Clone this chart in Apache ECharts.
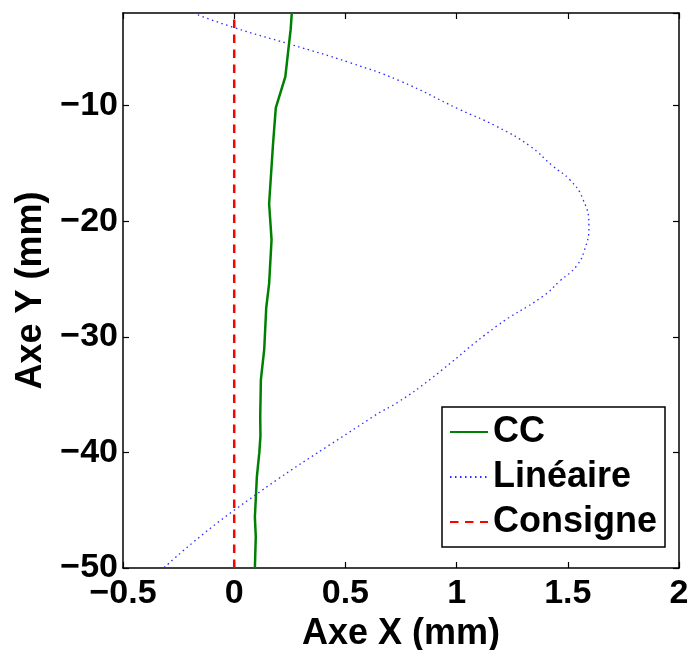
<!DOCTYPE html>
<html>
<head>
<meta charset="utf-8">
<script src="https://cdn.jsdelivr.net/npm/echarts@6/dist/echarts.min.js"></script>
<style>
html,body{margin:0;padding:0;background:#fff;}
#chart{width:693px;height:650px;}
</style>
</head>
<body>
<div id="chart"></div>
<script>
// Data
const ccX = [0.259, 0.254, 0.245, 0.230, 0.187, 0.174, 0.157, 0.168, 0.157, 0.144, 0.135, 0.120, 0.117, 0.118, 0.113, 0.102, 0.093, 0.097, 0.093];
const ccY = [-2, -3.4, -4.9, -7.5, -10.2, -13.5, -18.5, -21.6, -25.4, -27.5, -31.1, -33.7, -36.9, -38.6, -40, -42.1, -45.6, -47.3, -50];

const linX = [-0.184, 0, 0.251, 0.521, 0.741, 1.014, 1.179, 1.329, 1.433, 1.508, 1.568, 1.595, 1.575, 1.538, 1.463, 1.388, 1.179, 0.880, 0.741, 0.625, 0, -0.317];
const linY = [-2, -3.27, -4.7, -6.3, -7.84, -10.35, -11.8, -13.5, -15.25, -16.4, -18.1, -20.45, -22.5, -23.9, -25.2, -26.5, -29.1, -33.7, -35.6, -36.9, -45.0, -50];

const consX = [0, 0];
const consY = [-50, -2];

const seriesNames = ['CC', 'Linéaire', 'Consigne'];
const xTicks = {min: -0.5, max: 2, interval: 0.5};
const yTicks = {min: -50, max: -2, interval: 10};

function pairs(xs, ys) { return xs.map((x, i) => [x, ys[i]]); }
function fmt(v) { return String(v).replace('-', '\u2212'); }

const FONT = '"Liberation Sans", Arial, Helvetica, sans-serif';
const chart = echarts.init(document.getElementById('chart'), null, {renderer: 'canvas'});

const axisCommon = {
  axisLine: {show: true, onZero: false, lineStyle: {color: '#000', width: 1.5}},
  axisTick: {show: true, inside: true, length: 6, lineStyle: {color: '#000', width: 1.2}},
  splitLine: {show: false}
};

chart.setOption({
  animation: false,
  backgroundColor: '#fff',
  grid: {left: 123, right: 14, top: 13, bottom: 82, containLabel: false, outerBoundsMode: 'none'},
  xAxis: [
    Object.assign({}, axisCommon, {
      type: 'value', position: 'bottom', min: xTicks.min, max: xTicks.max, interval: xTicks.interval,
      name: 'Axe X (mm)', nameLocation: 'middle', nameGap: 41,
      nameTextStyle: {fontFamily: FONT, fontWeight: 'bold', fontSize: 36, color: '#000'},
      axisLabel: {margin: 9, fontFamily: FONT, fontWeight: 'bold', fontSize: 34, color: '#000', formatter: fmt}
    }),
    Object.assign({}, axisCommon, {
      type: 'value', position: 'top', min: xTicks.min, max: xTicks.max, interval: xTicks.interval,
      axisLabel: {show: false}
    })
  ],
  yAxis: [
    Object.assign({}, axisCommon, {
      type: 'value', position: 'left', min: yTicks.min, max: yTicks.max, interval: yTicks.interval,
      name: 'Axe Y (mm)', nameLocation: 'middle', nameGap: 71, nameRotate: 90,
      nameTextStyle: {fontFamily: FONT, fontWeight: 'bold', fontSize: 36, color: '#000'},
      axisLabel: {margin: 5, fontFamily: FONT, fontWeight: 'bold', fontSize: 34, color: '#000', formatter: fmt, showMaxLabel: false}
    }),
    Object.assign({}, axisCommon, {
      type: 'value', position: 'right', min: yTicks.min, max: yTicks.max, interval: yTicks.interval,
      axisLabel: {show: false}
    })
  ],
  legend: {
    orient: 'vertical', left: 442, top: 407,
    data: seriesNames,
    backgroundColor: '#fff', borderColor: '#000', borderWidth: 1.5,
    padding: [5, 8, 5, 7],
    itemWidth: 38, itemHeight: 14, itemGap: 5,
    itemStyle: {opacity: 0},
    textStyle: {fontFamily: FONT, fontWeight: 'bold', fontSize: 36, color: '#000', lineHeight: 40}
  },
  series: [
    {
      name: seriesNames[0], type: 'line', data: pairs(ccX, ccY), showSymbol: false, symbol: 'none',
      smooth: false, clip: true,
      lineStyle: {color: '#008000', width: 2.5}, itemStyle: {color: '#008000'}, z: 3
    },
    {
      name: seriesNames[1], type: 'line', data: pairs(linX, linY), showSymbol: false, symbol: 'none',
      smooth: true, clip: true,
      lineStyle: {color: '#2a2aff', width: 1.3, type: [1.5, 3.5]}, itemStyle: {color: '#2a2aff'}, z: 2
    },
    {
      name: seriesNames[2], type: 'line', data: pairs(consX, consY), showSymbol: false, symbol: 'none',
      clip: true,
      lineStyle: {color: '#ff0000', width: 2.5, type: [8.5, 6.5]}, itemStyle: {color: '#ff0000'}, z: 2
    }
  ]
});
</script>
</body>
</html>
